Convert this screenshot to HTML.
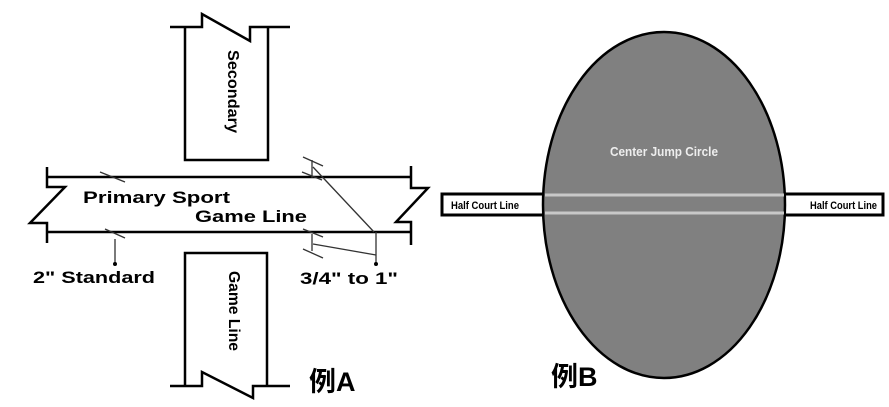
<!DOCTYPE html>
<html><head><meta charset="utf-8"><style>
html,body{margin:0;padding:0;background:#fff;width:889px;height:407px;overflow:hidden}
svg{display:block}
text{font-family:"Liberation Sans","Noto Sans CJK SC",sans-serif}
</style></head><body>
<svg width="889" height="407" viewBox="0 0 889 407" xmlns="http://www.w3.org/2000/svg">
<g fill="none" stroke="#000" stroke-width="2.5">
<path d="M170 27 H202 V14 L250 41 V27 H290"/>
<path d="M185 27 V160 H268 V27"/>
<path d="M170 386 H202 V372 L253 398 V386 H290"/>
<path d="M185 386 V253 H267 V386"/>
<path d="M47 177 H411"/>
<path d="M47 232 H411"/>
<path d="M47 167 V187 H65 L30 223 H47 V243"/>
<path d="M411 166 V188 H428 L396 222 H411 V245"/>
</g>
<g stroke="#333" stroke-width="1.3" fill="none">
<path d="M100 172 L125 182"/><path d="M105 229 L125 238"/>
<path d="M115 239 V263"/>
<path d="M303 157 L323 166"/><path d="M302 172 L322 180"/>
<path d="M312 160 V178"/>
<path d="M313 167 L374 232"/>
<path d="M376 232 V263"/>
<path d="M303 229 L323 237"/><path d="M303 249 L323 258"/>
<path d="M312 234 V251"/>
<path d="M313 244 L376 255"/>
</g>
<circle cx="115" cy="264" r="2" fill="#000"/>
<circle cx="376" cy="264" r="2" fill="#000"/>
<g font-weight="bold" font-size="17" fill="#000" lengthAdjust="spacingAndGlyphs">
<text x="83" y="203" textLength="147" lengthAdjust="spacingAndGlyphs">Primary Sport</text>
<text x="195" y="222" textLength="112" lengthAdjust="spacingAndGlyphs">Game Line</text>
<text x="33" y="283" textLength="122" lengthAdjust="spacingAndGlyphs">2" Standard</text>
<text x="300" y="284" textLength="98" lengthAdjust="spacingAndGlyphs">3/4" to 1"</text>
</g>
<text transform="translate(228,50) rotate(90)" font-size="16" font-weight="bold" fill="#000" textLength="83" lengthAdjust="spacingAndGlyphs">Secondary</text>
<text transform="translate(229,271) rotate(90)" font-size="16" font-weight="bold" fill="#000" textLength="80" lengthAdjust="spacingAndGlyphs">Game Line</text>
<text x="309" y="391" font-size="27" font-weight="bold" fill="#000">例A</text>
<rect x="442" y="194" width="104" height="21" fill="#fff" stroke="#000" stroke-width="3"/>
<rect x="782" y="194" width="101" height="21" fill="#fff" stroke="#000" stroke-width="3"/>
<ellipse cx="664" cy="205" rx="121" ry="173" fill="#808080" stroke="#000" stroke-width="2.5"/>
<line x1="545" y1="195" x2="784" y2="195" stroke="#c8c8c8" stroke-width="3"/>
<line x1="545" y1="213" x2="784" y2="213" stroke="#c8c8c8" stroke-width="3"/>
<text x="451" y="209" font-size="11" font-weight="bold" fill="#000" textLength="68" lengthAdjust="spacingAndGlyphs">Half Court Line</text>
<text x="810" y="209" font-size="11" font-weight="bold" fill="#000" textLength="67" lengthAdjust="spacingAndGlyphs">Half Court Line</text>
<text x="610" y="156" font-size="13" font-weight="bold" fill="#eee" textLength="108" lengthAdjust="spacingAndGlyphs">Center Jump Circle</text>
<text x="551" y="386" font-size="27" font-weight="bold" fill="#000">例B</text>
</svg>
</body></html>
